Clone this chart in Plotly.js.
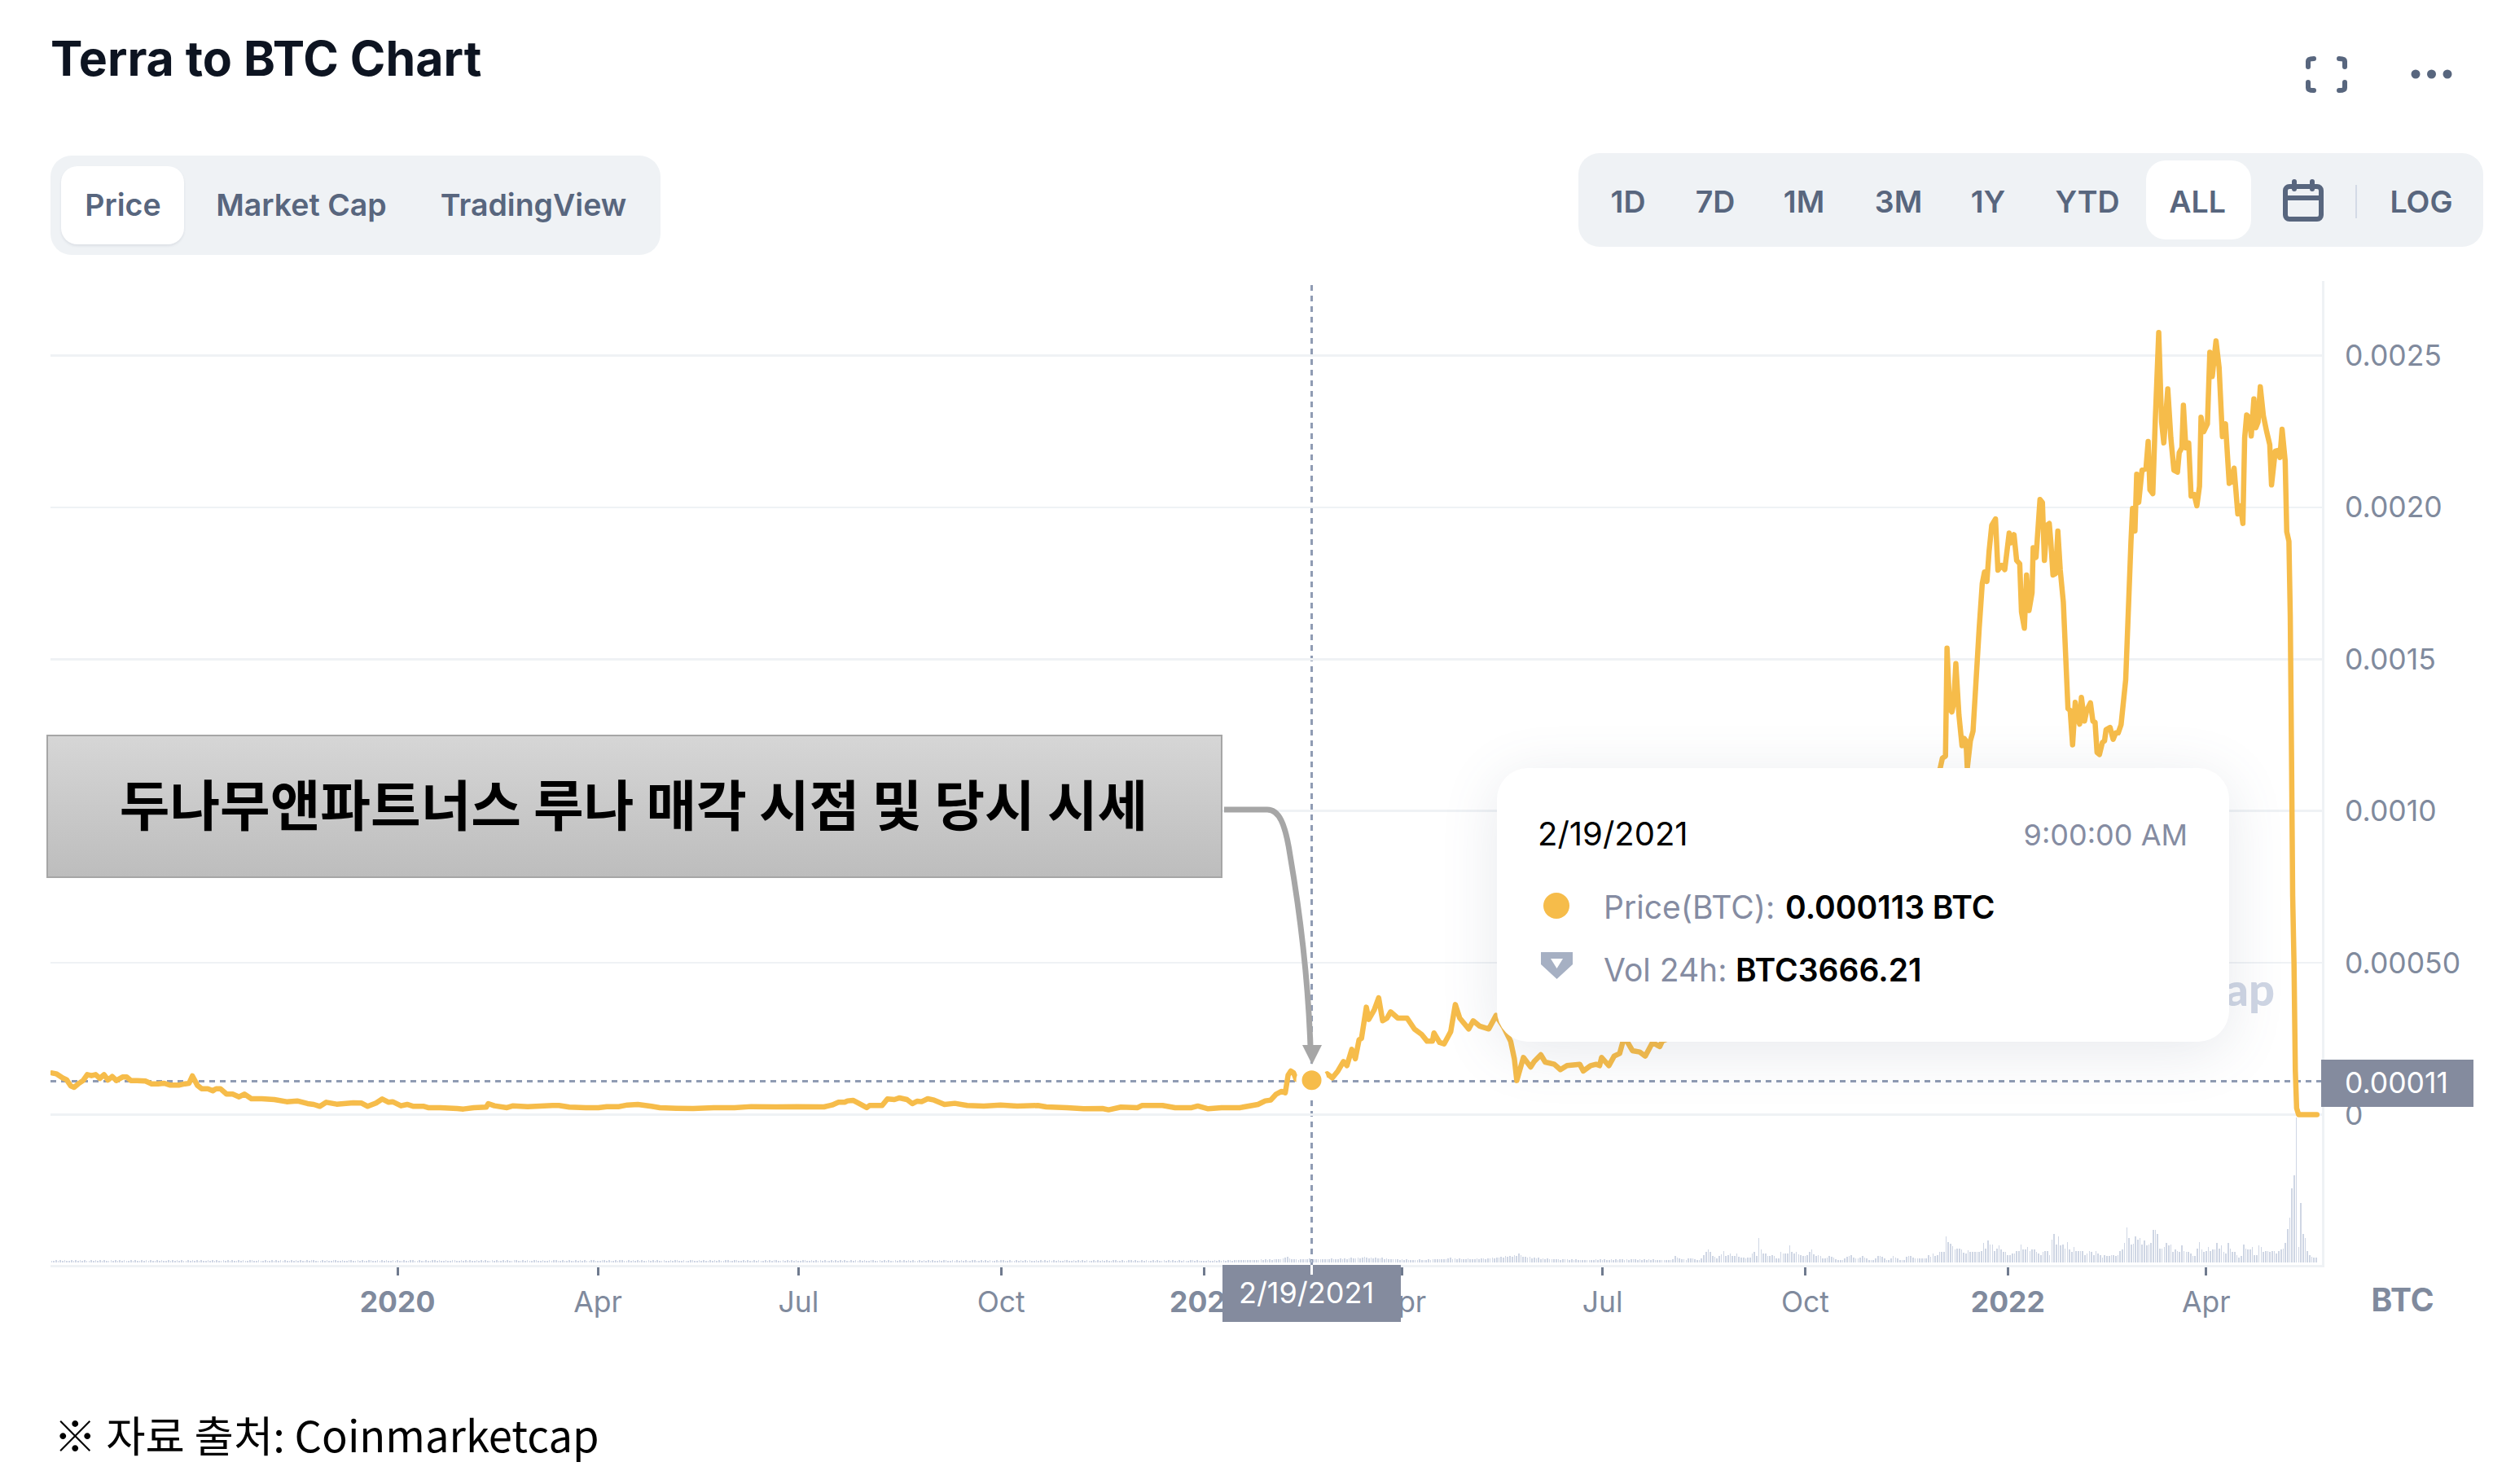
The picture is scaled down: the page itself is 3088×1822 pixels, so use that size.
<!DOCTYPE html>
<html>
<head>
<meta charset="utf-8">
<script src="https://cdn.plot.ly/plotly-3.0.1.min.js"></script>
<style>
html,body{margin:0;padding:0;background:#fff;width:3088px;height:1822px;overflow:hidden;font-family:Inter,sans-serif}
#plot{position:absolute;left:0;top:0;width:3088px;height:1822px}
.js-line{stroke-linejoin:round;stroke-linecap:round}
.b{position:absolute;box-sizing:border-box}
.t{position:absolute;white-space:nowrap;transform:translate(-50%,-50%);line-height:1}
.l{position:absolute;white-space:nowrap;transform:translateY(-50%);line-height:1}
.ui{font-size:37.5px;font-weight:600;color:#58667E}
</style>
</head>
<body>
<div id="plot"></div>

<div class="l" style="right:295px;top:1214px;font-family:Lato,Inter,sans-serif;font-size:56px;font-weight:900;color:#CFD6E4">coinmarketcap</div>

<!-- header controls -->
<div class="b" style="left:62px;top:191px;width:749px;height:122px;background:#EFF2F5;border-radius:26px"></div>
<div class="b" style="left:75px;top:204px;width:151px;height:96px;background:#fff;border-radius:20px;box-shadow:0 2px 3px rgba(88,102,126,.12)"></div>
<div class="t ui" style="left:151px;top:252px">Price</div>
<div class="t ui" style="left:370px;top:252px">Market Cap</div>
<div class="t ui" style="left:655px;top:252px">TradingView</div>

<div class="b" style="left:1938px;top:188px;width:1111px;height:115px;background:#EFF2F5;border-radius:26px"></div>
<div class="b" style="left:2635px;top:197px;width:129px;height:97px;background:#fff;border-radius:24px"></div>
<div class="t ui" style="left:1999px;top:248px">1D</div>
<div class="t ui" style="left:2106px;top:248px">7D</div>
<div class="t ui" style="left:2215px;top:248px">1M</div>
<div class="t ui" style="left:2331px;top:248px">3M</div>
<div class="t ui" style="left:2441px;top:248px">1Y</div>
<div class="t ui" style="left:2563px;top:248px">YTD</div>
<div class="t ui" style="left:2698px;top:248px">ALL</div>
<div class="t ui" style="left:2973px;top:248px">LOG</div>

<!-- hover card -->
<div class="b" style="left:1838px;top:943px;width:899px;height:336px;background:#fff;border-radius:38px;box-shadow:0 12px 70px rgba(88,102,126,.14)"></div>
<div class="l" style="left:1888px;top:1024px;font-size:40px;color:#000">2/19/2021</div>
<div class="l" style="right:402px;top:1025px;font-size:36px;color:#858CA2">9:00:00 AM</div>
<div class="l" style="left:1969px;top:1113px;font-size:39px;color:#858CA2">Price(BTC): <span style="color:#000;font-weight:600;position:absolute;left:223px;top:0">0.000113&nbsp;BTC</span></div>
<div class="l" style="left:1969px;top:1190px;font-size:39px;color:#858CA2">Vol 24h: <span style="color:#000;font-weight:600;position:absolute;left:162px;top:0">BTC3666.21</span></div>

<!-- crosshair labels -->
<div class="b" style="left:1501px;top:1553px;width:219px;height:70px;background:#848B9E"></div>
<div class="b" style="left:1609px;top:1553px;width:3px;height:12px;background:#fff"></div>
<div class="t" style="left:1604px;top:1587px;font-size:36px;color:#fff">2/19/2021</div>
<div class="b" style="left:2850px;top:1301px;width:187px;height:58px;background:#848B9E"></div>
<div class="l" style="left:2879px;top:1330px;font-size:35.5px;color:#fff">0.00011</div>
<div class="t" style="left:2950px;top:1595px;font-size:39px;font-weight:700;color:#808A9D">BTC</div>

<!-- call-out -->
<div class="b" style="left:57px;top:902px;width:1444px;height:176px;border:2px solid #A6A6A6;background:linear-gradient(#D6D6D6,#BDBDBD)"></div>
<div class="t" style="left:778px;top:984px;font-family:'Noto Sans CJK KR';font-weight:700;font-size:67px;color:#000">두나무앤파트너스 루나 매각 시점 및 당시 시세</div>
<div class="l" style="left:66px;top:1760px;font-family:'Noto Sans CJK KR';font-size:52.5px;color:#000">※ 자료 출처: Coinmarketcap</div>

<svg style="position:absolute;left:0;top:0;pointer-events:none" width="3088" height="1822" viewBox="0 0 3088 1822">
  <path d="M1503,994 H1556 C1570,994 1578,1010 1584,1050 C1596,1120 1606,1200 1609,1285" fill="none" stroke="#A6A6A6" stroke-width="7"/>
  <path d="M1599,1283 H1623 L1611,1307 Z" fill="#A6A6A6"/>
  <g fill="none" stroke="#58667E" stroke-width="6" stroke-linecap="round" stroke-linejoin="round">
    <path d="M2834,82 V75 Q2834,72 2841,72"/><path d="M2872,72 Q2879,72 2879,75 V82"/>
    <path d="M2834,101 V108 Q2834,111 2841,111"/><path d="M2872,111 Q2879,111 2879,108 V101"/>
    <rect x="2806" y="229" width="44" height="40" rx="5"/><path d="M2806,243 H2850"/><path d="M2817,223 V232"/><path d="M2839,223 V232"/>
  </g>
  <g fill="#58667E"><circle cx="2966" cy="91" r="5.5"/><circle cx="2985.5" cy="91" r="5.5"/><circle cx="3005" cy="91" r="5.5"/></g>
  <path d="M2893,227 V268" stroke="#D3DAE6" stroke-width="2"/>
  <circle cx="1911" cy="1112" r="22" fill="#fff"/>
  <circle cx="1911" cy="1112" r="16" fill="#F6BC4A"/>
  <path d="M1888,1164 H1935 V1186 L1911.5,1208 L1888,1186 Z" fill="#fff"/>
  <path fill-rule="evenodd" d="M1892,1169 H1931 V1184 L1911.5,1202 L1892,1184 Z M1904,1177 L1911.5,1189 L1919,1177 Z" fill="#A6B0C3"/>
</svg>

<script>
// Price: days since 2020-01-01 and value in units of 1e-4 BTC
const priceDay = [-156.8,-154.9,-152.1,-150.2,-148.3,-146.8,-144.9,-142.7,-140.8,-138.9,-137,-135.1,-133.2,-131.4,-129.5,-127.6,-124.8,-122.9,-121,-118.2,-114.4,-111.6,-108.7,-105.9,-103.1,-99.3,-96.5,-94.6,-93.1,-90.8,-88.9,-86.1,-83.8,-82.3,-80.4,-77.6,-74.8,-71.9,-69.5,-66.3,-61.6,-55.9,-50.3,-45.5,-40.8,-38,-35.2,-32.3,-27.6,-20.1,-16.3,-13.5,-9.7,-6.9,-4,-2.2,1.6,4.4,7.3,12,13.9,19.5,27.1,29.9,34.6,40.3,41.2,44,49.7,52.5,59.1,70.4,73.3,78,85.5,91.2,95,100.6,104.4,109.1,115.3,119.1,126.6,134.2,143.6,153,160.6,171.9,181.3,193.6,197.3,200.2,203,204.3,206.8,209.6,213,214.3,220,222.4,225.6,227.9,231.3,233.7,236,237.9,240.7,243.6,248.3,253,258.6,266.2,273.7,281.3,290.7,294.5,303.9,311.5,320,322.8,328.4,336,337.9,347.3,353,360.5,363.3,368,374.1,382.4,390.6,393.9,396.4,398.9,401.3,403,404.3,405.5,406.8,407.9,411,415,418,422,424.4,426.9,429.4,431,433.2,434.8,436.5,437.6,439.8,440.9,443.4,445.4,447.2,449.2,450.8,454.1,458.3,461.6,464.9,467.4,469.8,470.5,473.1,475.1,478.1,480.2,482.2,486.3,488.3,491.3,495.4,498.7,502,505.3,507,508.1,511.1,514.4,516,519,521,525.1,527.9,530.9,536.7,538.3,541.6,544.1,545.7,546.6,549.9,552.3,554.8,556.5,558.1,560.6,563.9,566.4,569.7,573,574.1,580,590,600,615,630,650,665,680,695,700.3,701.3,702.7,703.4,704.6,705.6,706.4,707.4,708.8,710.2,711.2,712,712.6,714,715.2,716.6,718,719.4,720.4,721.5,722.5,723.7,725.4,726.5,728.2,729.6,731.6,732.4,733.8,735,736.4,737.2,738.5,739.5,740.6,742,742.5,743.8,745.6,746.7,747.6,748.8,749.8,750.5,751.5,752.7,753.7,754.8,756.2,758.3,759.3,760.4,761.6,762.6,763.6,764.4,765.8,766.8,768.5,769.6,770.6,771.5,772.6,773.9,774.9,775.6,777.4,778.8,780,781.1,782.4,784.5,785.9,786.9,787.6,788.7,789.5,790.4,791.9,793.7,794.7,795.5,796.8,797.9,799.5,800.8,801.8,803.6,805,806.4,808,808.8,810,810.7,811.8,813.1,814.2,815.6,816.8,818,818.7,819.9,821.6,822.7,823.8,825.5,826.9,828.4,829.8,831.5,832.6,833.7,835.4,836.6,837.7,838.5,839.4,840.5,841.5,842.7,843.6,844.6,845.6,847,848.5,849.9,850.7,852.4,853.5,854.5,855.5,856.9,857.6,858.6,859.2,859.8,860.3,860.9,861.5,862.1,863,871.3];
const priceE4 = [1.372,1.345,1.211,1.149,0.943,0.898,1.014,1.122,1.318,1.283,1.318,1.193,1.318,1.14,1.256,1.122,1.238,1.238,1.122,1.122,1.104,1.014,1.014,1.032,0.97,0.97,1.014,1.032,1.274,0.961,0.854,0.854,0.782,0.854,0.854,0.675,0.675,0.585,0.675,0.523,0.523,0.496,0.424,0.451,0.362,0.335,0.272,0.406,0.344,0.388,0.38,0.272,0.38,0.514,0.406,0.424,0.29,0.335,0.272,0.272,0.228,0.228,0.201,0.183,0.228,0.245,0.362,0.29,0.228,0.29,0.263,0.299,0.299,0.245,0.228,0.228,0.263,0.263,0.317,0.335,0.272,0.228,0.21,0.201,0.228,0.228,0.264,0.255,0.264,0.255,0.317,0.407,0.407,0.452,0.47,0.362,0.228,0.3,0.3,0.514,0.496,0.55,0.496,0.362,0.443,0.425,0.523,0.478,0.335,0.371,0.3,0.282,0.317,0.282,0.3,0.255,0.228,0.192,0.201,0.157,0.246,0.228,0.3,0.3,0.228,0.228,0.282,0.192,0.228,0.228,0.335,0.451,0.478,0.675,0.764,0.72,1.3,1.435,1.372,1.167,1.1,1.13,1.2,1.345,1.211,1.435,1.748,1.614,2.15,1.837,2.463,2.508,3.536,3.134,3.447,3.849,3.089,3.178,3.384,3.178,3.178,2.821,2.642,2.418,2.418,2.687,2.374,2.329,2.731,3.625,3.178,2.821,3.089,2.91,2.821,3.268,2.9,2.418,1.837,1.122,1.882,1.569,1.748,1.971,1.73,1.658,1.48,1.614,1.658,1.435,1.614,1.658,1.614,1.882,1.614,1.926,2.016,2.463,2.418,2.105,2.061,1.926,2.374,2.24,2.418,2.6,3.4,4.6,6.1,6.8,7.6,8.4,9.2,10.6,11.41,11.74,11.81,15.36,13.37,13.26,13.53,14.85,13.16,12.15,12.39,12.31,11.41,12.31,12.63,14.32,16.02,17.5,17.87,17.56,18.56,19.41,19.62,17.93,18.09,17.95,19.15,18.83,19.1,18.25,18.14,16.55,16.02,17.77,16.6,17.19,18.67,18.35,20.26,20.16,18.25,19.41,19.47,18.88,17.77,17.82,19.22,17.93,16.87,13.37,13.31,12.18,13.58,13.05,12.86,13.74,12.96,13.31,13.56,12.96,12.92,11.93,11.86,12.25,12.31,12.68,12.75,12.36,12.57,12.57,12.84,14.32,16.97,18.88,19.96,19.22,21.09,20.16,21.22,21.27,22.17,20.58,20.45,22.81,25.76,22.81,22.12,23.9,22.28,21.22,21.16,21.8,21.96,23.36,21.96,22.12,20.37,20.42,20.05,20.69,22.97,22.49,22.75,25.11,24.31,25.48,24.61,22.33,22.75,20.79,20.85,21.29,19.78,20.05,19.47,22.28,23.04,22.97,22.35,23.57,22.62,22.81,23.97,23.02,22.49,22.06,20.74,21.85,21.87,21.64,22.57,21.53,19.2,18.88,16.44,11.67,7.2,5.0,1.46,0.21,0,0];

// Daily 24h volume in thousands of BTC (first bar = oldest)
const volumeEarly = [
1.6,1.9,1.7,2.2,1.8,2.0,1.7,2.3,1.9,1.6,2.1,1.8,2.4,1.7,2.0,1.9,2.2,1.6,1.8,2.1,
1.9,2.3,1.7,2.0,1.8,2.2,1.6,1.9,2.4,1.8,2.0,1.7,2.1,1.9,2.3,1.6,1.8,2.2,1.7,2.0,
1.9,1.7,2.2,1.8,2.1,1.6,2.3,1.9,1.8,2.0,1.7,2.2,1.9,1.6,2.1,1.8,2.4,1.7,2.0,1.9,
2.1,1.8,1.6,2.2,1.9,2.0,1.7,2.3,1.8,2.1,1.6,1.9,2.2,1.7,2.0,1.8,2.3,1.9,1.7,2.1,
1.8,2.0,1.6,2.2,1.9,1.7,2.4,1.8,2.1,1.9,1.6,2.0,2.2,1.7,1.9,2.3,1.8,1.6,2.1,1.9,
1.7,2.2,1.9,2.0,1.6,2.1,1.8,2.3,1.7,1.9,2.2,1.8,2.0,1.6,2.4,1.9,1.7,2.1,1.8,2.0,
2.2,1.7,1.9,1.6,2.3,1.8,2.0,1.9,1.7,2.2,2.1,1.6,1.8,2.3,1.9,1.7,2.0,2.2,1.8,1.6,
2.1,1.9,2.4,1.7,1.8,2.0,2.2,1.6,1.9,2.1,1.8,2.3,1.7,2.0,1.9,1.6,2.2,1.8,2.1,1.7,
1.9,2.3,1.8,1.6,2.0,2.2,1.7,1.9,2.1,1.8,1.6,2.4,1.9,1.7,2.0,2.2,1.8,2.1,1.6,1.9,
2.3,1.7,1.8,2.0,2.2,1.6,1.9,2.1,1.7,2.3,1.8,2.0,1.9,1.6,2.2,1.7,2.1,1.8,2.4,1.9,
1.7,2.0,1.6,2.2,1.8,1.9,2.3,1.7,2.1,1.8,1.6,2.0,2.2,1.9,1.7,2.3,1.8,2.1,1.6,1.9,
2.0,2.2,1.7,1.8,2.4,1.9,1.6,2.1,1.8,2.0,2.3,1.7,1.9,2.2,1.6,1.8,2.1,1.9,1.7,2.3,
1.8,2.0,1.6,2.2,1.9,1.7,2.1,2.4,1.8,1.9,1.6,2.3,2.0,1.7,2.2,1.8,1.9,2.1,1.6,2.0,
2.2,1.8,1.7,2.3,1.9,2.0,1.6,2.1,1.8,2.4,1.7,1.9,2.2,1.8,2.0,1.6,2.3,1.9,1.7,2.1,
1.9,1.6,2.2,1.8,2.0,2.4,1.7,1.9,2.1,1.8,1.6,2.3,2.0,1.9,1.7,2.2,1.8,2.1,1.6,1.9,
2.3,1.7,2.0,1.8,2.2,1.9,1.6,2.1,2.4,1.8,1.7,2.0,2.2,1.9,1.6,2.3,1.8,2.1,1.7,1.9,
2.0,1.6,2.2,1.8,1.9,2.3,1.7,2.1,1.8,2.0,2.4,1.6,1.9,2.2,1.7,2.0,1.8,2.1,1.9,2.3,
1.6,1.8,2.0,2.2,1.7,1.9,2.1,1.8,2.4,1.6,2.0,1.9,2.2,1.7,1.8,2.3,1.9,2.1,1.6,2.0,
1.8,2.2,1.7,1.9,2.4,1.8,2.0,1.6,2.1,1.9,2.3,1.7,1.8,2.2,2.0,1.6,1.9,2.1,1.8,2.3,
1.7,2.0,1.9,1.6,2.2,1.8,2.4,1.7,2.1,1.9,2.0,1.6,2.3,1.8,1.9,2.2,1.7,2.1,1.8,2.0,
1.6,2.3,1.9,1.7,2.2,1.8,2.0,2.4,1.6,1.9,2.1,1.8,2.3,1.7,2.0,1.9,2.2,1.6,1.8,2.1,
2.4,1.7,1.9,2.0,1.8,2.2,1.6,2.3,1.9,1.7,2.1,1.8,2.0,2.2,1.6,1.9,2.4,1.7,1.8,2.1,
1.9,2.0,1.6,2.3,1.8,2.2,1.7,1.9,2.1,1.8,2.4,1.6,2.0,1.9,2.2,1.7,2.3,1.8,2.1,1.9,
1.7,2.0,2.2,1.6,1.8,2.3,1.9,2.1,1.7,2.0,1.8,2.4,1.6,1.9,2.2,1.8,2.0,1.7,2.3,1.9,
2.1,1.6,1.8,2.2,2.0,1.7,1.9,2.3,1.8,1.6,2.1,2.0,1.9,2.4,1.7,1.8,2.2,1.6,2.0,1.9,
1.8,2.3,1.7,2.1,1.9,1.6,2.2,1.8,2.0,1.7,2.4,1.9,1.8,2.1,1.6,2.2,1.9,1.7,2.0,2.3,
1.8,2.1,1.6];
const volume2021H1 = [
1.8,1.9,1.7,2.0,1.8,1.9,2.1,1.8,2.0,1.9,2.2,1.8,2.0,2.1,1.9,2.2,2.0,2.3,2.1,2.4,
2.2,2.5,2.3,2.6,2.4,2.7,2.5,2.8,2.4,2.9,2.6,3.0,2.7,3.2,2.8,3.1,3.5,4.1,4.8,5.5,
3.6,3.1,2.8,3.0,2.7,3.3,2.9,3.1,2.8,3.7,2.6,3.2,3.0,2.9,3.3,2.8,3.4,3.1,2.9,3.6,
3.2,3.5,3.0,3.9,3.4,4.1,3.2,3.8,4.4,3.6,4.0,4.8,3.9,4.4,5.6,4.6,4.2,4.9,4.1,4.5,
4.2,3.6,4.3,3.5,3.8,3.2,3.0,3.4,2.9,3.1,2.7,3.0,2.6,2.8,2.5,2.7,2.4,2.6,2.5,2.8,
2.4,2.7,2.5,3.0,2.6,3.1,2.8,3.2,2.9,3.4,3.0,3.3,3.6,4.3,3.4,3.9,3.3,3.6,3.1,3.5,
3.2,3.6,3.0,3.4,3.1,3.8,3.3,3.6,3.9,3.4,4.2,3.7,4.6,4.0,4.9,4.4,5.5,4.8,6.1,5.2,
6.4,5.6,7.2,6.3,8.6,6.9,5.1,5.8,4.6,5.2,4.2,4.8,3.9,4.3,3.5,3.9,3.2,3.6,3.0,3.3,
2.9,3.4,3.0,2.7,3.1,2.8,3.2,2.6,2.9,2.5,2.8,2.4,2.7,2.5,2.6,2.3,2.7,2.4,2.6,2.8,
2.5,2.9,2.6,3.0,2.7,2.4,2.8,2.5,3.1,2.7,3.2,2.8,2.6,3.0,2.7,3.3,2.8,3.1,2.6,3.0,
2.7,2.9,2.5,2.8,2.6,3.0,2.4,2.7,2.5,2.3,2.6,2.2];
const volume2021H2 = [
2.1,2.6,3.1,6.2,4.7,3.6,3.1,3.4,2.6,3.6,3.6,3.6,3.1,2.1,2.6,3.6,7.3,9.9,12.5,10.4,
6.2,5.2,4.2,6.2,7.8,10.9,6.2,6.8,8.3,6.2,6.2,8.6,5.2,4.7,4.7,3.6,4.7,4.7,8.6,9.9,
6.2,23.4,12.5,8.8,8.6,6.2,6.2,7.3,6.2,4.2,4.2,9.9,8.6,8.6,8.6,16.1,9.9,8.6,9.9,7.8,
7.3,6.2,6.2,7.3,9.9,12.5,7.8,6.2,7.3,6.2,3.6,3.6,4.7,6.2,5.2,4.7,3.1,2.6,2.1,2.1,
3.6,5.2,6.2,7.3,4.7,3.6,3.6,4.7,6.2,4.7,3.6,2.6,2.1,2.6,3.6,6.2,6.2,5.2,3.6,2.6,
2.6,3.6,6.2,4.7,3.6,2.1,2.1,2.1,5.2,6.2,6.2,4.7,3.6,3.6,3.6,3.6,3.6,3.6,7.3,5.2,
8.6,6.2,7.3,9.9,9.9,9.9,24.7,19.8,18.2,15.6,12.5,13,13.5,12.5,9.4,8.6,11.4,9.9,9.9,9.9,
9.9,9.9,10.9,18.7,13.5,20.8,17.2,17.2];
const volume2022 = [
10.9,13.5,16.1,12.5,9.9,9.9,7.3,7.3,8.6,8.6,10.9,10.9,17.2,12.5,12.5,14.8,10.9,12.5,12.5,9.9,
8.6,7.3,9.9,10.9,10.9,7.3,22.1,27.3,17.2,24.7,16.1,17.2,13.5,19.8,12.5,9.9,14.8,10.9,10.9,10.9,
10.9,7.3,8.6,10.9,9.9,7.3,10.9,8.6,7.3,4.7,7.3,6.2,6.2,7.3,7.3,6.2,7.3,10.9,12.5,18.7,33.8,23.4,
17.2,18.2,24.7,22.1,23.4,17.2,20.8,16.1,17.2,18.7,31.2,31.2,27.3,13.5,13.5,14.8,18.7,16.1,17.2,9.9,
12.5,10.9,9.9,16.1,10.9,9.9,9.9,8.6,6.2,6.2,13.5,19.8,12.5,9.9,10.9,14.8,10.9,12.5,12.5,18.7,
13.5,16.1,9.9,8.6,18.7,13.5,9.9,9.9,7.3,4.7,6.2,17.2,13.5,12.5,12.5,14.8,7.3,7.3,16.1,14.8,
9.9,10.9,10.9,9.9,10.9,10.9,8.6,10.9,12.5,13.5,18.7,32,42.9,71,83.5,138.8,14.8,56.9,27.3,23.4,
10.9,7,5.5,4.7,4.7];

const xTickDays = [0,91,182,274,366,456,547,639,731,821];
const xTickText = ['<b>2020</b>','Apr','Jul','Oct','<b>2021</b>','Apr','Jul','Oct','<b>2022</b>','Apr'];
const yTickVals = [0,0.0005,0.001,0.0015,0.002,0.0025];
const yTickText = ['0','0.00050','0.0010','0.0015','0.0020','0.0025'];
const hoverDay = 415, hoverPrice = 0.000113, hoverLevel = 0.00011;

const dayToDate = d => new Date(Date.UTC(2020,0,1) + d*864e5).toISOString();
const volumeK = volumeEarly.concat(volume2021H1, volume2021H2, volume2022);
const lastVolDay = 871;
const volDates = volumeK.map((_,i)=>dayToDate(lastVolDay - volumeK.length + 1 + i));

const traces = [
 {type:'bar', x:volDates, y:volumeK.map(v=>v*1000), yaxis:'y2', width:0.6*864e5,
  marker:{color:'#CFD6E4',line:{width:0}}, hoverinfo:'skip', showlegend:false},
 {type:'scatter', mode:'lines', x:priceDay.map(dayToDate), y:priceE4.map(v=>v*1e-4),
  line:{color:'#F6BC4A',width:6.5,simplify:false}, hoverinfo:'skip', showlegend:false},
 {type:'scatter', mode:'markers', x:[dayToDate(hoverDay)], y:[hoverPrice],
  marker:{color:'#F6BC4A',size:31,line:{color:'#fff',width:7}}, hoverinfo:'skip', showlegend:false}
];

const crossLine = {color:'#8F9BB3',width:3,dash:'7px,6px'};
const layout = {
 width:3088, height:1822, autosize:false,
 margin:{l:62,r:237,t:345,b:269,pad:0},
 paper_bgcolor:'rgba(0,0,0,0)', plot_bgcolor:'rgba(0,0,0,0)',
 font:{family:'Inter, sans-serif',size:35,color:'#808A9D'},
 title:{text:'Terra to BTC Chart',xref:'container',yref:'container',x:62/3088,xanchor:'left',y:1-72/1822,yanchor:'middle',
   font:{family:'Inter, sans-serif',size:59,color:'#0D1421',weight:700}},
 showlegend:false,
 bargap:0,
 xaxis:{type:'date',range:['2019-07-27 12:00','2022-05-23 14:24'],tickmode:'array',
   tickvals:xTickDays.map(dayToDate),ticktext:xTickText,
   tickfont:{family:'Inter, sans-serif',size:35.5,color:'#808A9D'},
   ticks:'outside',ticklen:10,tickwidth:3,tickcolor:'#6F7A8E',
   showgrid:false,zeroline:false,showline:true,linecolor:'#EFF2F5',linewidth:3,ticklabelstandoff:2},
 yaxis:{range:[-0.000495,0.0027454],side:'right',tickmode:'array',tickvals:yTickVals,ticktext:yTickText,
   tickfont:{family:'Inter, sans-serif',size:35.5,color:'#808A9D'},
   ticks:'',ticklabelstandoff:18,
   showgrid:true,gridcolor:'#EFF2F5',gridwidth:2.5,zeroline:false,showline:true,linecolor:'#EFF2F5',linewidth:3},
 yaxis2:{overlaying:'y',side:'right',range:[-2340,939900],visible:false,showgrid:false,zeroline:false},
 shapes:[
  {type:'line',layer:'below',xref:'x',yref:'paper',x0:dayToDate(hoverDay),x1:dayToDate(hoverDay),y0:0,y1:1,line:crossLine},
  {type:'line',layer:'below',xref:'paper',yref:'y',x0:0,x1:1,y0:hoverLevel,y1:hoverLevel,line:crossLine}
 ]
};
Plotly.newPlot('plot',traces,layout,{displayModeBar:false,staticPlot:true});
</script>
</body>
</html>
